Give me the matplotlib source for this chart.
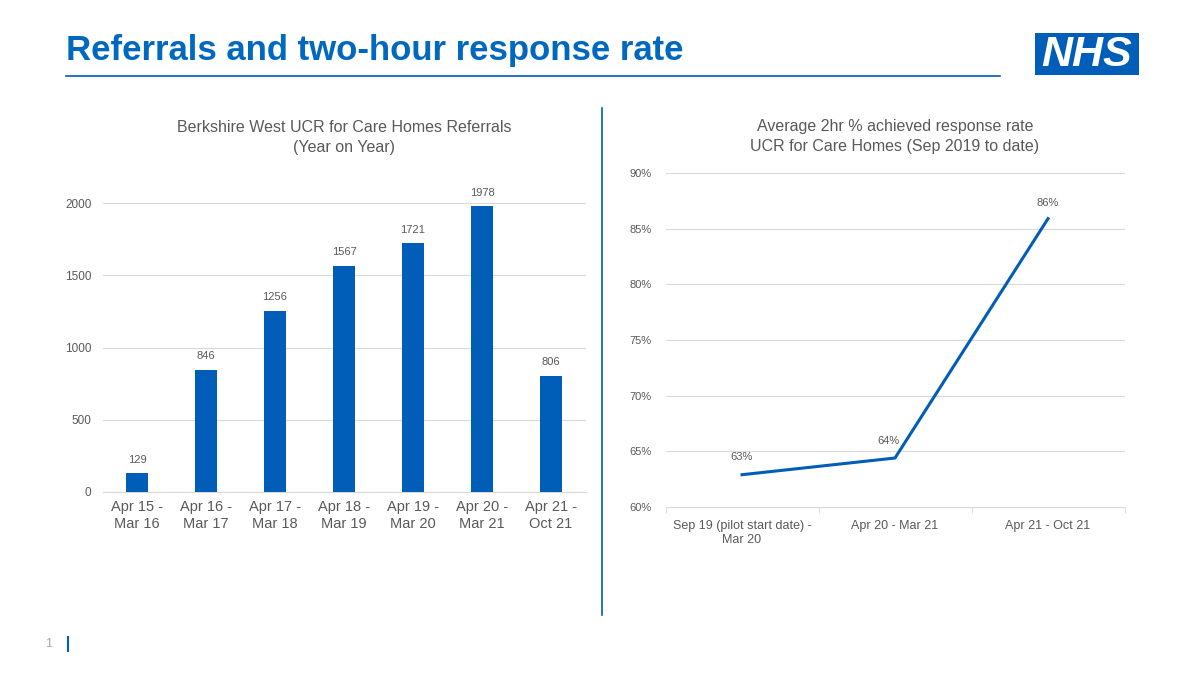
"""Referrals and two-hour response rate slide (UCR for Care Homes)."""
import matplotlib; matplotlib.use('Agg'); import matplotlib.pyplot as plt
import numpy as np

BLUE = '#005EB8'; TITLE = '#0068BF'; GREY = '#595959'; GRID = '#D9D9D9'
plt.rcParams.update({'font.family': ['Liberation Sans', 'DejaVu Sans']})

# ---- data ----
ref_periods = ['Apr 15 -\nMar 16', 'Apr 16 -\nMar 17', 'Apr 17 -\nMar 18', 'Apr 18 -\nMar 19',
               'Apr 19 -\nMar 20', 'Apr 20 -\nMar 21', 'Apr 21 -\nOct 21']
referrals = [129, 846, 1256, 1567, 1721, 1978, 806]
rate_periods = ['Sep 19 (pilot start date) -\nMar 20', 'Apr 20 - Mar 21', 'Apr 21 - Oct 21']
rate_pct = [62.9, 64.4, 85.9]
rate_labels = ['63%', '64%', '86%']

fig = plt.figure(figsize=(12, 6.75), dpi=100)

# ---- slide furniture ----
fig.text(66/1200, 1-60/675, 'Referrals and two-hour response rate', fontsize=25, fontweight='bold',
         color=TITLE, va='baseline', ha='left')
fig.add_artist(plt.Line2D([66/1200, 1000/1200], [1-76/675]*2, color=BLUE, lw=1.2))
fig.add_artist(plt.Line2D([602/1200]*2, [1-108/675, 1-615/675], color=BLUE, lw=1.2))
logo = fig.add_axes([1035/1200, 1-75/675, 104/1200, 42/675])
logo.set_facecolor(BLUE); logo.set_xticks([]); logo.set_yticks([])
for s in logo.spines.values(): s.set_visible(False)
logo.text(0.5, 0.47, 'NHS', color='white', fontsize=31, fontweight='bold', style='italic',
          ha='center', va='center', transform=logo.transAxes)
fig.text(45/1200, 1-644/675, '1', fontsize=9, color='#A6A6A6', ha='left', va='center')
fig.add_artist(plt.Line2D([68/1200]*2, [1-637/675, 1-651/675], color=BLUE, lw=1.5))

# ---- left: referrals bars ----
ax = fig.add_axes([102.5/1200, 1-492/675, 483/1200, 289/675])
x = np.arange(len(referrals))
ax.bar(x, referrals, width=0.32, color=BLUE, zorder=3)
for xi, v in zip(x, referrals):
    ax.annotate(str(v), (xi, v), xytext=(0, 6), textcoords='offset points', ha='center', va='bottom',
                fontsize=8, color=GREY)
ax.set_xlim(-0.5, len(referrals)-0.5); ax.set_ylim(0, 2000)
ax.set_yticks([0, 500, 1000, 1500, 2000])
ax.set_xticks(x); ax.set_xticklabels(ref_periods, fontsize=10.5, color=GREY)
ax.tick_params(axis='y', labelsize=8.5, labelcolor=GREY, length=0, pad=8)
ax.tick_params(axis='x', length=0, pad=6)
ax.grid(axis='y', color=GRID, lw=0.8, zorder=0)
for s in ['top', 'right', 'left']: ax.spines[s].set_visible(False)
ax.spines['bottom'].set_color(GRID)
ax.set_title('Berkshire West UCR for Care Homes Referrals\n(Year on Year)', fontsize=11.5, color=GREY,
             pad=37, linespacing=1.4)

# ---- right: response rate line ----
ax2 = fig.add_axes([665.5/1200, 1-507/675, 459/1200, 334/675])
x2 = np.arange(len(rate_pct))
ax2.plot(x2, rate_pct, color=BLUE, lw=2.2, zorder=3)
offs = [(0, 9), (-5, 9), (0, 8)]
for xi, v, lab, o in zip(x2, rate_pct, rate_labels, offs):
    ax2.annotate(lab, (xi, v), xytext=o, textcoords='offset points', ha='center', va='bottom',
                 fontsize=8, color=GREY)
ax2.set_xlim(-0.5, len(rate_pct)-0.5); ax2.set_ylim(60, 90)
ax2.set_yticks(range(60, 91, 5)); ax2.set_yticklabels([f'{t}%' for t in range(60, 91, 5)])
ax2.set_xticks(x2); ax2.set_xticklabels(rate_periods, fontsize=9, color=GREY, linespacing=1.3)
ax2.set_xticks(np.arange(-0.5, len(rate_pct)), minor=True)
ax2.tick_params(axis='x', which='major', length=0, pad=9)
ax2.tick_params(axis='x', which='minor', length=4, color=GRID)
ax2.tick_params(axis='y', labelsize=8, labelcolor=GREY, length=0, pad=10)
ax2.grid(axis='y', color=GRID, lw=0.8, zorder=0)
for s in ['top', 'right', 'left']: ax2.spines[s].set_visible(False)
ax2.spines['bottom'].set_color(GRID)
ax2.set_title('Average 2hr % achieved response rate\nUCR for Care Homes (Sep 2019 to date)', fontsize=11.5,
              color=GREY, pad=16, linespacing=1.4)

fig.savefig('out.png', dpi=100)
